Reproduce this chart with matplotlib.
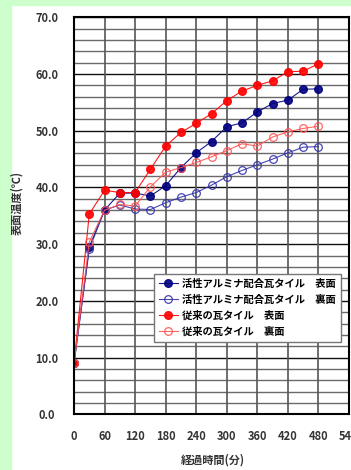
import matplotlib
matplotlib.use("Agg")
import matplotlib.pyplot as plt
from matplotlib.patches import Rectangle

plt.rcParams['font.family'] = ['Noto Sans CJK JP', 'DejaVu Sans']

time_min = [0, 30, 60, 90, 120, 150, 180, 210, 240, 270, 300, 330, 360, 390, 420, 450, 480]
alumina_surface = [9.0, 29.5, 36.0, 39.0, 39.0, 38.5, 40.3, 43.5, 46.1, 48.1, 50.7, 51.4, 53.3, 54.8, 55.4, 57.3, 57.4]
alumina_back = [9.0, 29.1, 36.0, 36.9, 36.2, 36.1, 37.3, 38.3, 39.1, 40.4, 41.9, 43.0, 44.0, 45.0, 46.1, 47.1, 47.2]
conv_surface = [9.0, 35.3, 39.5, 39.1, 39.1, 43.2, 47.3, 49.7, 51.3, 53.0, 55.3, 57.0, 58.0, 58.8, 60.4, 60.5, 61.8]
conv_back = [9.0, 30.4, 36.0, 37.0, 36.7, 40.1, 42.7, 43.5, 44.4, 45.4, 46.5, 47.7, 47.3, 48.9, 49.8, 50.4, 50.8]

labels = ["活性アルミナ配合瓦タイル　表面", "活性アルミナ配合瓦タイル　裏面",
          "従来の瓦タイル　表面", "従来の瓦タイル　裏面"]
x_ticks = [0, 60, 120, 180, 240, 300, 360, 420, 480, 540]
y_ticks = [0, 10, 20, 30, 40, 50, 60, 70]

W, H = 351, 470
fig = plt.figure(figsize=(W / 100, H / 100), dpi=100)
fig.patch.set_facecolor('white')
green = '#ccffcc'
fig.patches.append(Rectangle((0, 0), 11 / W, 1, transform=fig.transFigure, color=green, zorder=0))
fig.patches.append(Rectangle((0, 1 - 5 / H), 1, 5 / H, transform=fig.transFigure, color=green, zorder=0))

ax = fig.add_axes([74 / W, 1 - 414.3 / H, 275 / W, 397 / H])
ax.set_xlim(0, 540)
ax.set_ylim(0, 70)

# grid
for yv in range(0, 71, 2):
    if yv % 10 == 0:
        ax.axhline(yv, color='#111111', lw=1.0, zorder=1)
    else:
        ax.axhline(yv, color='#6a6a6a', lw=1.0, zorder=1)
for xv in range(60, 540, 60):
    ax.axvline(xv, color='#555555', lw=1.2, zorder=1)

navy = '#000080'
red = '#ff0000'
ax.plot(time_min, alumina_surface, color=navy, lw=0.8, marker='o', ms=5.5,
        mfc=navy, mec=navy, label=labels[0], zorder=3, alpha=0.9)
ax.plot(time_min, alumina_back, color='#3333aa', lw=0.8, marker='o', ms=5.5,
        mfc='none', mec='#3333aa', mew=0.9, label=labels[1], zorder=3, alpha=0.9)
ax.plot(time_min, conv_surface, color=red, lw=0.8, marker='o', ms=5.5,
        mfc=red, mec=red, label=labels[2], zorder=3, alpha=0.9)
ax.plot(time_min, conv_back, color='#ff5555', lw=0.8, marker='o', ms=5.5,
        mfc='none', mec='#ff5555', mew=0.9, label=labels[3], zorder=3, alpha=0.9)

ax.set_xticks(x_ticks)
ax.set_xticklabels([str(v) for v in x_ticks])
ax.set_yticks(y_ticks)
ax.set_yticklabels([f"{v:.1f}" for v in y_ticks])
ax.tick_params(axis='both', length=0, labelsize=8, labelcolor='#333333')
ax.tick_params(axis='x', pad=11)
ax.tick_params(axis='y', pad=19.5)
for lab in ax.get_yticklabels():
    lab.set_horizontalalignment('center')
for lab in ax.get_xticklabels() + ax.get_yticklabels():
    lab.set_fontweight('bold')

for sp in ax.spines.values():
    sp.set_color('black')
    sp.set_linewidth(1.5)
    sp.set_zorder(4)

leg = ax.legend(loc='lower left', bbox_to_anchor=(0.272, 0.17), fontsize=7.4,
                frameon=True, fancybox=False, edgecolor='#777777', framealpha=1,
                handlelength=1.8, handletextpad=0.4, borderpad=0.5, labelspacing=0.55)
leg.get_frame().set_linewidth(1.0)
for t in leg.get_texts():
    t.set_fontweight('bold')

fig.text(17 / W, 1 - 203 / H, "表面温度(℃)", rotation=90, ha='center', va='center',
         fontsize=8, fontweight='bold', color='#333333')
fig.text(213 / W, 1 - 460 / H, "経過時間(分)", ha='center', va='center',
         fontsize=8, fontweight='bold', color='#333333')

fig.savefig('out.png', dpi=100)
